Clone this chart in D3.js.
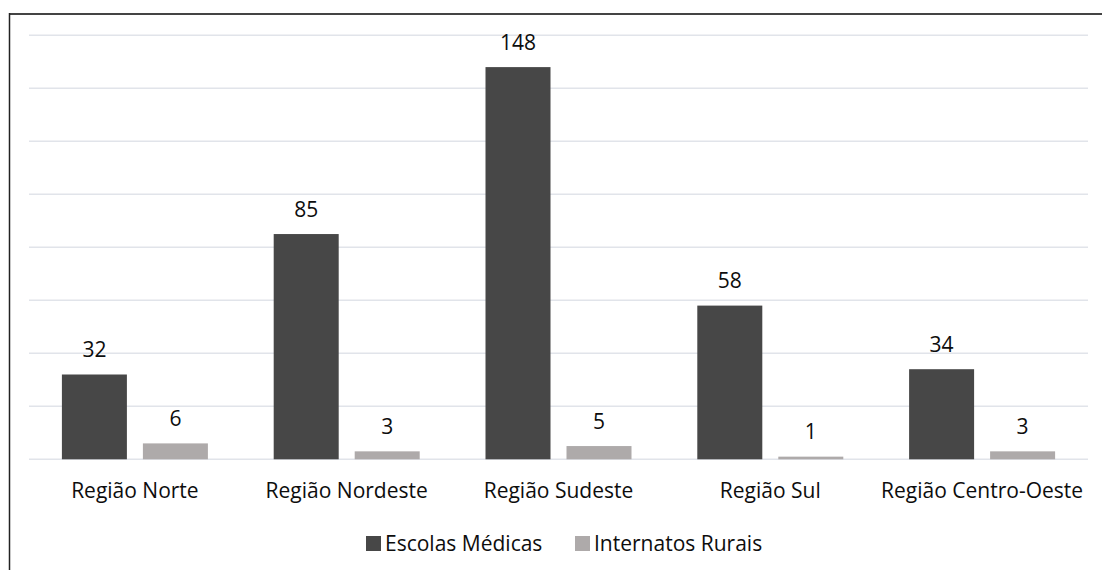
<!DOCTYPE html>
<html>
<head>
<meta charset="utf-8">
<script src="https://cdn.jsdelivr.net/npm/d3@7"></script>
<style>
  html, body { margin: 0; padding: 0; background: #fff; }
  svg { display: block; }
  text { font-family: "Open Sans", Lato, sans-serif; fill: #0d0d0d; }
</style>
</head>
<body>
<svg id="chart" width="1102" height="570"></svg>
<script>
// Regions and series
const regioes = ["Região Norte", "Região Nordeste", "Região Sudeste", "Região Sul", "Região Centro-Oeste"];
const escolasMedicas = [32, 85, 148, 58, 34];
const internatosRurais = [6, 3, 5, 1, 3];
const seriesNames = ["Escolas Médicas", "Internatos Rurais"];
const seriesColors = ["#474747", "#aeaaaa"];
const yTicks = [0, 20, 40, 60, 80, 100, 120, 140, 160];

const svg = d3.select("#chart");
const W = 1102, H = 570;

// Frame (top and left edges)
svg.append("line").attr("x1", 9.5).attr("x2", W).attr("y1", 14).attr("y2", 14)
  .attr("stroke", "#444").attr("stroke-width", 2);
svg.append("line").attr("x1", 9.5).attr("x2", 9.5).attr("y1", 13).attr("y2", H)
  .attr("stroke", "#222").attr("stroke-width", 1.5);

const plot = { left: 29, right: 1088, top: 35.3, bottom: 459.3 };

const x = d3.scaleBand().domain(regioes).range([plot.left, plot.right]).paddingInner(0).paddingOuter(0);
const y = d3.scaleLinear().domain([0, 160]).range([plot.bottom, plot.top]);

// Horizontal gridlines
svg.append("g")
  .selectAll("line")
  .data(yTicks)
  .join("line")
  .attr("x1", plot.left).attr("x2", plot.right)
  .attr("y1", d => y(d)).attr("y2", d => y(d))
  .attr("stroke", "#e1e4ea").attr("stroke-width", 1.5);

const barW = 65, gap = 16;
const groupW = barW * 2 + gap;

const rows = regioes.map((r, i) => ({ regiao: r, vals: [escolasMedicas[i], internatosRurais[i]] }));

const groups = svg.append("g").selectAll("g")
  .data(rows)
  .join("g")
  .attr("transform", d => `translate(${x(d.regiao) + x.bandwidth() / 2 - groupW / 2},0)`);

groups.selectAll("rect")
  .data(d => d.vals.map((v, k) => ({ v, k })))
  .join("rect")
  .attr("x", d => d.k * (barW + gap))
  .attr("y", d => y(d.v))
  .attr("width", barW)
  .attr("height", d => y(0) - y(d.v))
  .attr("fill", d => seriesColors[d.k]);

// Value labels
groups.selectAll("text")
  .data(d => d.vals.map((v, k) => ({ v, k })))
  .join("text")
  .attr("x", d => d.k * (barW + gap) + barW / 2)
  .attr("y", d => y(d.v) - 17.5)
  .attr("text-anchor", "middle")
  .attr("font-size", 21)
  .text(d => d.v);

// Category axis labels
svg.append("g").selectAll("text")
  .data(regioes)
  .join("text")
  .attr("x", d => x(d) + x.bandwidth() / 2)
  .attr("y", 498)
  .attr("text-anchor", "middle")
  .attr("font-size", 21)
  .text(d => d);

// Legend
const legend = svg.append("g").attr("transform", "translate(366,536)");
const legendX = [0, 209];
seriesNames.forEach((name, k) => {
  const g = legend.append("g").attr("transform", `translate(${legendX[k]},0)`);
  g.append("rect").attr("x", 0).attr("y", 0).attr("width", 15).attr("height", 15).attr("fill", seriesColors[k]);
  g.append("text").attr("x", 19).attr("y", 15).attr("font-size", 21).text(name);
});
</script>
</body>
</html>
